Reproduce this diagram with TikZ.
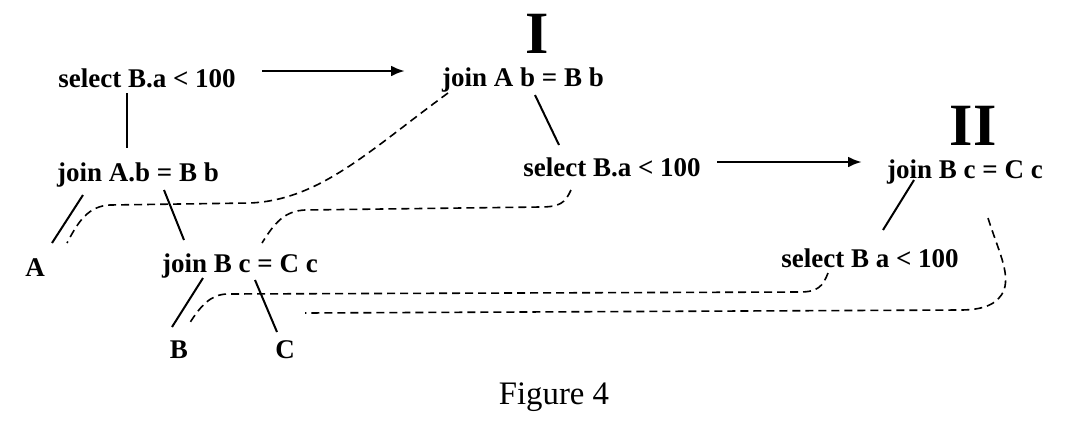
\documentclass[tikz,border=0pt]{standalone}
\usepackage{fontspec}
\setmainfont{Liberation Serif}
\usetikzlibrary{arrows.meta,calc}

\begin{document}
\begin{tikzpicture}[x=0.5pt, y=-0.5pt,
    lbl/.style={font=\fontsize{13.5}{15}\selectfont\bfseries, inner sep=0pt},
    roman/.style={font=\fontsize{30}{32}\selectfont\bfseries, inner sep=0pt},
    edge/.style={line width=1pt},
    move/.style={-{Latex[length=7pt, width=5.5pt]}, line width=1.4pt},
    trace/.style={line width=0.8pt, dash pattern=on 4pt off 2.5pt}]
    \useasboundingbox (0,0) rectangle (1080,445);

    % Original plan
    \node[lbl] (sel1) at (147,78) {select B.a < 100};
    \node[lbl] (joinAB) at (138,175) {join A.b = B b};
    \node[lbl] (A) at (35,268) {A};
    \node[lbl] (joinBC) at (240,266) {join B c = C c};
    \node[lbl] (B) at (179,350) {B};
    \node[lbl] (C) at (285,350) {C};

    \draw[edge] ($(sel1)+(-20,15)$) -- ($(joinAB)+(-11,-27)$);
    \draw[edge] ($(joinAB)+(-55,20)$) -- ($(A)+(17,-25)$);
    \draw[edge] ($(joinAB)+(26,15)$) -- ($(joinBC)+(-56,-26)$);
    \draw[edge] ($(joinBC)+(-37,12)$) -- ($(B)+(-7,-23)$);
    \draw[edge] ($(joinBC)+(15,14)$) -- ($(C)+(-8,-18)$);

    % Step I
    \node[lbl] (join1) at (523,80) {join A b = B b};
    \node[roman] (romI) at (537,34) {I};
    \node[lbl] (sel2) at (612,167) {select B.a < 100};
    \draw[edge] ($(join1)+(12,15)$) -- ($(sel2)+(-53,-22)$);
    \draw[move] ($(sel1)+(115,-7)$) -- ($(join1)+(-118,-9)$);

    % Step II
    \node[lbl] (join2) at (965,172) {join B c = C c};
    \node[roman] (romII) at (973,126) {II};
    \node[lbl] (sel3) at (870,258) {select B a < 100};
    \draw[edge] ($(join2)+(-51,8)$) -- ($(sel3)+(13,-28)$);
    \draw[move] ($(sel2)+(105,-5)$) -- ($(join2)+(-103,-10)$);

    % Correspondence traces
    \draw[trace] ($(join1)+(-75,13)$) .. controls (370,150) and (320,200) .. (250,203)
        -- (110,205) .. controls (88,206) and (78,222) .. ($(A)+(32,-25)$);
    \draw[trace] ($(sel2)+(-41,23)$) .. controls (565,203) and (560,207) .. (540,207)
        -- (305,210) .. controls (285,211) and (275,222) .. ($(joinBC)+(22,-23)$);
    \draw[trace] ($(sel3)+(-42,15)$) .. controls (823,286) and (818,292) .. (800,292)
        -- (228,294) .. controls (210,294) and (200,307) .. ($(B)+(10,-26)$);
    \draw[trace] ($(join2)+(23,46)$) .. controls (998,250) and (1010,272) .. (1004,290)
        .. controls (998,305) and (982,310) .. (960,310) -- ($(C)+(20,-37)$);

    % Caption
    \node[font=\fontsize{16.4}{18}\selectfont, inner sep=0pt] (cap) at (554,397) {Figure 4};
\end{tikzpicture}
\end{document}
